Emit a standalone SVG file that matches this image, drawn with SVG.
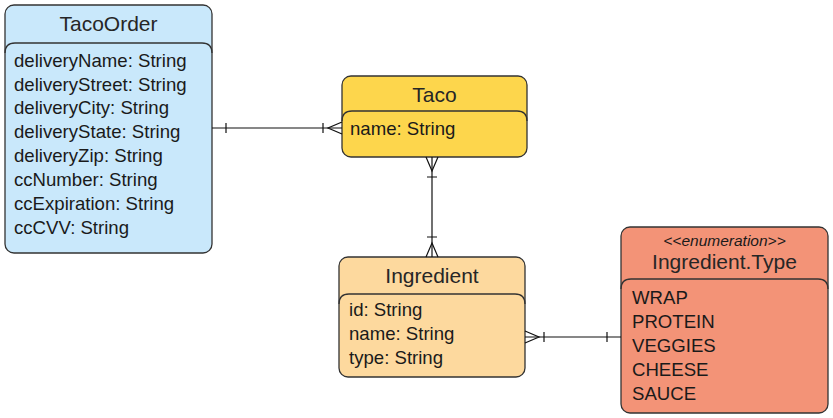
<svg xmlns="http://www.w3.org/2000/svg" width="833" height="418" viewBox="0 0 833 418">
<style>
.box{stroke:#333;stroke-width:1.3}
.div{fill:none;stroke:#333;stroke-width:1.3}
.t{font-family:"Liberation Sans",Arial,sans-serif;fill:#1a1a1a}
.title{font-size:21px;text-anchor:middle;fill:#262626}
.attr{font-size:18.6px}
.ster{font-size:15.5px;font-style:italic;text-anchor:middle}
.c{fill:none;stroke:#111;stroke-width:1.2}
</style>
<rect width="833" height="418" fill="#fff"/>
<g id="TacoOrder">
<rect class="box" x="5" y="5" width="207" height="248" rx="9" fill="#C9E8FB"/>
<path class="div" d="M5,53 Q5,43 15,43 H202 Q212,43 212,53"/>
<text class="t title" x="108.5" y="31">TacoOrder</text>
<text class="t attr" x="14" y="67">deliveryName: String</text>
<text class="t attr" x="14" y="91">deliveryStreet: String</text>
<text class="t attr" x="14" y="114">deliveryCity: String</text>
<text class="t attr" x="14" y="138">deliveryState: String</text>
<text class="t attr" x="14" y="162">deliveryZip: String</text>
<text class="t attr" x="14" y="186">ccNumber: String</text>
<text class="t attr" x="14" y="210">ccExpiration: String</text>
<text class="t attr" x="14" y="234">ccCVV: String</text>
</g>
<g id="Taco">
<rect class="box" x="342" y="76" width="185" height="81" rx="9" fill="#FDD64C"/>
<path class="div" d="M342,121 Q342,111 352,111 H517 Q527,111 527,121"/>
<text class="t title" x="434.5" y="102">Taco</text>
<text class="t attr" x="350" y="135">name: String</text>
</g>
<g id="Ingredient">
<rect class="box" x="339" y="257" width="186" height="120" rx="9" fill="#FDD99E"/>
<path class="div" d="M339,304 Q339,294 349,294 H515 Q525,294 525,304"/>
<text class="t title" x="432" y="283">Ingredient</text>
<text class="t attr" x="349" y="316">id: String</text>
<text class="t attr" x="349" y="340">name: String</text>
<text class="t attr" x="349" y="364">type: String</text>
</g>
<g id="IngredientType">
<rect class="box" x="621" y="227" width="207" height="186" rx="9" fill="#F39377"/>
<path class="div" d="M621,289 Q621,279 631,279 H818 Q828,279 828,289"/>
<text class="t ster" x="724.5" y="246">&lt;&lt;enumeration&gt;&gt;</text>
<text class="t title" x="724.5" y="269">Ingredient.Type</text>
<text class="t attr" x="632" y="304">WRAP</text>
<text class="t attr" x="632" y="328">PROTEIN</text>
<text class="t attr" x="632" y="352">VEGGIES</text>
<text class="t attr" x="632" y="376">CHEESE</text>
<text class="t attr" x="632" y="400">SAUCE</text>
</g>
<g id="connectors">
<path class="c" d="M212,128 H342"/>
<path class="c" d="M226,123 V133 M323,123 V133"/>
<path class="c" d="M342,122 L328,128 L342,134"/>
<path class="c" d="M432,157 V257"/>
<path class="c" d="M426,157 L432,171 L438,157"/>
<path class="c" d="M427,177 H437 M427,237 H437"/>
<path class="c" d="M426,257 L432,243 L438,257"/>
<path class="c" d="M525,337 H621"/>
<path class="c" d="M525,331 L539,337 L525,343"/>
<path class="c" d="M544,332 V342 M607,332 V342"/>
</g>
</svg>
